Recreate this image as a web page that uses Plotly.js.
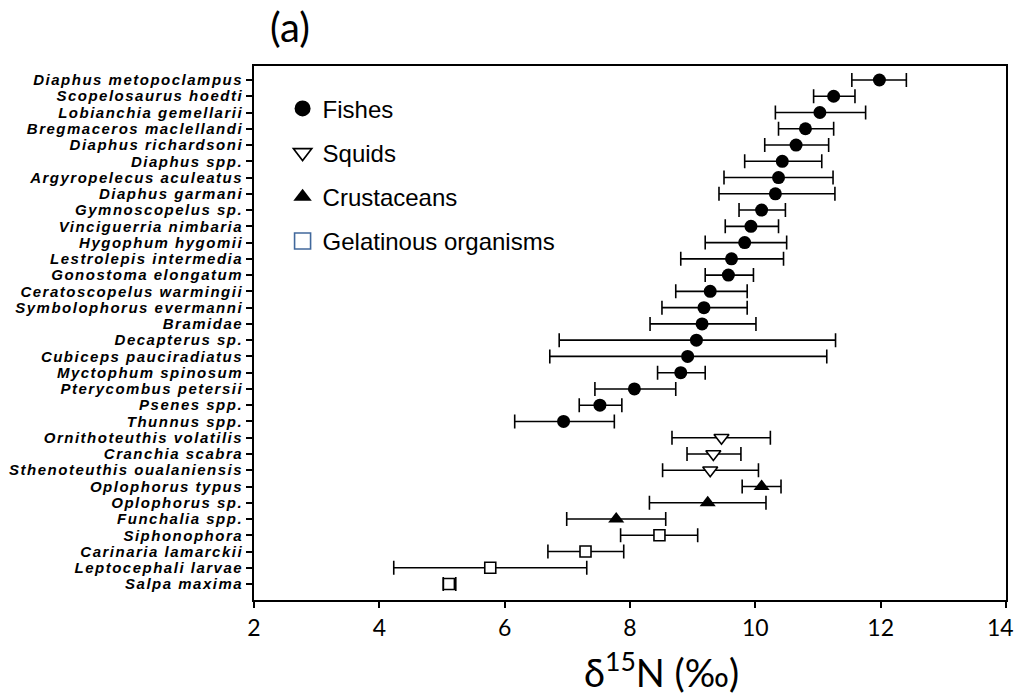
<!DOCTYPE html>
<html>
<head>
<meta charset="utf-8">
<script src="https://cdn.plot.ly/plotly-3.0.1.min.js"></script>
<style>
  html, body { margin: 0; padding: 0; background: #fff; }
  #chart { width: 1015px; height: 697px; }
  .ytick text { letter-spacing: 1.5px; }
</style>
</head>
<body>
<div id="chart"></div>
<script>
// ---- Data ----
const fishNames = ["Diaphus metopoclampus","Scopelosaurus hoedti","Lobianchia gemellarii","Bregmaceros maclellandi",
  "Diaphus richardsoni","Diaphus spp.","Argyropelecus aculeatus","Diaphus garmani","Gymnoscopelus sp.",
  "Vinciguerria nimbaria","Hygophum hygomii","Lestrolepis intermedia","Gonostoma elongatum",
  "Ceratoscopelus warmingii","Symbolophorus evermanni","Bramidae","Decapterus sp.","Cubiceps pauciradiatus",
  "Myctophum spinosum","Pterycombus petersii","Psenes spp.","Thunnus spp."];
const fishMean = [11.98,11.25,11.03,10.80,10.65,10.43,10.37,10.32,10.10,9.93,9.83,9.62,9.57,9.28,9.18,9.15,9.06,8.92,8.81,8.07,7.52,6.94];
const fishLow  = [11.54,10.93,10.32,10.37,10.15,9.83,9.50,9.42,9.74,9.52,9.20,8.81,9.20,8.73,8.51,8.32,6.87,6.72,8.44,7.44,7.19,6.16];
const fishHigh = [12.41,11.59,11.76,11.25,11.17,11.06,11.24,11.27,10.48,10.37,10.50,10.45,9.97,9.87,9.87,10.01,11.28,11.14,9.20,8.73,7.87,7.75];

const squidNames = ["Ornithoteuthis volatilis","Cranchia scabra","Sthenoteuthis oualaniensis"];
const squidMean = [9.46,9.33,9.28];
const squidLow  = [8.67,8.91,8.52];
const squidHigh = [10.24,9.77,10.05];

const crustNames = ["Oplophorus typus","Oplophorus sp.","Funchalia spp."];
const crustMean = [10.10,9.24,7.78];
const crustLow  = [9.79,8.31,6.99];
const crustHigh = [10.41,10.17,8.57];

const gelNames = ["Siphonophora","Carinaria lamarckii","Leptocephali larvae","Salpa maxima"];
const gelMean = [8.47,7.29,5.77,5.11];
const gelLow  = [7.85,6.69,4.23,5.02];
const gelHigh = [9.08,7.90,7.31,5.22];

const groupNames = ["Fishes","Squids","Crustaceans","Gelatinous organisms"];
const xTicks = [2,4,6,8,10,12,14];
const xTickLabels = ["2","4","6","8","10","12","14"];
const allNames = fishNames.concat(squidNames, crustNames, gelNames);

function errs(mean, low, high) {
  return {
    type: 'data', symmetric: false,
    array: high.map((h, i) => h - mean[i]),
    arrayminus: low.map((l, i) => mean[i] - l),
    color: '#000', thickness: 1.6, width: 7
  };
}

const markerStyles = [
  { symbol: 'circle', color: '#000' },
  { symbol: 'triangle-down', color: '#fff', line: { color: '#000', width: 1.6 } },
  { symbol: 'triangle-up', color: '#000' },
  { symbol: 'square', color: '#fff', line: { color: '#000', width: 1.6 } }
];
const legendMarkers = [
  { symbol: 'circle', color: '#000' },
  { symbol: 'triangle-down', color: '#fff', line: { color: '#000', width: 1.6 } },
  { symbol: 'triangle-up', color: '#000' },
  { symbol: 'square', color: '#fff', line: { color: '#41689c', width: 1.6 } }
];
const sizes = [13, 13, 14, 11];
const groups = [
  [fishNames, fishMean, fishLow, fishHigh],
  [squidNames, squidMean, squidLow, squidHigh],
  [crustNames, crustMean, crustLow, crustHigh],
  [gelNames, gelMean, gelLow, gelHigh]
];

const traces = [];
groups.forEach((g, k) => {
  traces.push({
    x: g[1], y: g[0], name: groupNames[k], type: 'scatter', mode: 'markers',
    showlegend: false, legendgroup: 'g' + k,
    marker: Object.assign({ size: sizes[k] }, markerStyles[k]),
    error_x: errs(g[1], g[2], g[3])
  });
});
groups.forEach((g, k) => {
  traces.push({
    x: [null], y: [null], name: groupNames[k], type: 'scatter', mode: 'markers',
    showlegend: true, legendgroup: 'g' + k,
    marker: Object.assign({ size: 16 }, legendMarkers[k])
  });
});

// keep the last tick label inside the page: pad it on the right with an en space
const tickTextShown = xTickLabels.map((t, i) => i === xTickLabels.length - 1 ? t + '\u2002' : t);

const layout = {
  width: 1015, height: 697,
  paper_bgcolor: '#fff', plot_bgcolor: '#fff',
  margin: { l: 254, r: 9, t: 66, b: 97, pad: 0 },
  title: { text: '(a)', x: 290 / 1015, xanchor: 'center', xref: 'container',
           y: 1 - 28 / 697, yanchor: 'middle', yref: 'container',
           font: { family: 'Lato, "Open Sans", sans-serif', size: 40, color: '#000' } },
  showlegend: true,
  legend: {
    x: 0.038, xanchor: 'left', y: 0.962, yanchor: 'top',
    bgcolor: 'rgba(0,0,0,0)', borderwidth: 0,
    font: { family: '"Liberation Sans", Arial, sans-serif', size: 24, color: '#000' },
    tracegroupgap: 10, itemsizing: 'trace', traceorder: 'grouped'
  },
  xaxis: {
    range: [1.9999, 14.0001], tickmode: 'array', tickvals: xTicks, ticktext: tickTextShown,
    ticklabeloverflow: 'allow',
    showgrid: false, zeroline: false,
    showline: true, linecolor: '#000', linewidth: 1.8, mirror: true,
    ticks: 'outside', ticklen: 6, tickwidth: 1.5, tickcolor: '#000',
    tickfont: { family: 'Lato, "Open Sans", sans-serif', size: 23, color: '#000' }
  },
  yaxis: {
    type: 'category', categoryorder: 'array', categoryarray: allNames,
    tickmode: 'array', tickvals: allNames, ticktext: allNames,
    range: [31.98, -0.86],
    showgrid: false, zeroline: false,
    showline: true, linecolor: '#000', linewidth: 1.8, mirror: true,
    ticks: 'outside', ticklen: 6, tickwidth: 1.5, tickcolor: '#000',
    tickfont: { family: '"Liberation Sans", Arial, sans-serif', size: 15, color: '#000', weight: 'bold', style: 'italic' },
    automargin: false
  },
  annotations: [{
    text: 'δ<sup>15</sup>N (‰)', xref: 'paper', yref: 'paper',
    x: (661 - 254) / 752, xanchor: 'center',
    y: -(670 - 600) / 534, yanchor: 'middle', showarrow: false,
    font: { family: 'Lato, "Open Sans", sans-serif', size: 38, color: '#000' }
  }]
};

Plotly.newPlot('chart', traces, layout, { displayModeBar: false, responsive: false });
</script>
</body>
</html>
